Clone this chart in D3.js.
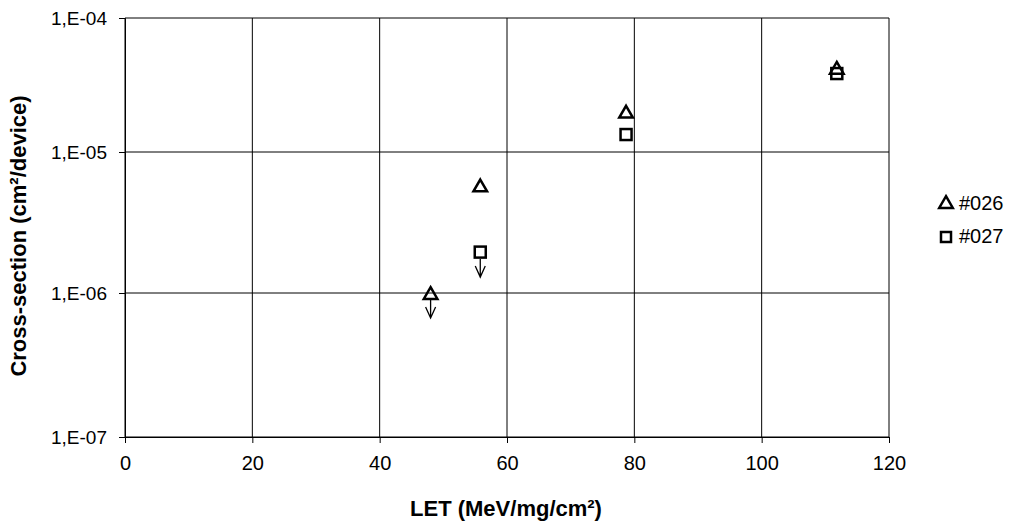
<!DOCTYPE html>
<html>
<head>
<meta charset="utf-8">
<script src="https://cdn.jsdelivr.net/npm/d3@7"></script>
<style>
  body { margin: 0; background: #fff; }
  text { font-family: "Liberation Sans", Arial, sans-serif; fill: #000; }
</style>
</head>
<body>
<div id="chart"></div>
<script>
// LET values and cross-sections per device
const let026 = [48, 55.8, 78.7, 111.8];
const xs026 = [1.0e-6, 5.8e-6, 2.0e-5, 4.25e-5];
const limit026 = [true, false, false, false];

const let027 = [55.8, 78.7, 111.8];
const xs027 = [1.95e-6, 1.35e-5, 3.85e-5];
const limit027 = [true, false, false];

const xTicks = [0, 20, 40, 60, 80, 100, 120];
const yTicks = [1e-7, 1e-6, 1e-5, 1e-4];
const yTickLabels = ['1,E-07', '1,E-06', '1,E-05', '1,E-04'];
const seriesNames = ['#026', '#027'];

let width = 1017,
  height = 524;

let svg = d3.select('#chart').append('svg')
  .attr('width', width)
  .attr('height', height);

let x = d3.scaleLinear().domain([0, 120]).range([125, 889]);
// decades are not quite evenly spaced on the original
let y = d3.scaleLog().domain(yTicks).range([437, 293, 152, 18]);

// grid
svg.append('g')
  .selectAll('line')
  .data(xTicks)
  .enter().append('line')
  .attr('x1', d => x(d)).attr('x2', d => x(d))
  .attr('y1', y(1e-4)).attr('y2', y(1e-7))
  .attr('stroke', '#000').attr('stroke-width', 1);

svg.append('g')
  .selectAll('line')
  .data(yTicks)
  .enter().append('line')
  .attr('x1', x(0)).attr('x2', x(120))
  .attr('y1', d => y(d)).attr('y2', d => y(d))
  .attr('stroke', '#000').attr('stroke-width', 1);

// axes
let xAxis = svg.append('g')
  .attr('transform', 'translate(0,' + y(1e-7) + ')')
  .call(d3.axisBottom(x).tickValues(xTicks).tickSize(6).tickPadding(13));
let yAxis = svg.append('g')
  .attr('transform', 'translate(' + x(0) + ',0)')
  .call(d3.axisLeft(y).tickValues(yTicks).tickFormat((d, i) => yTickLabels[i]).tickSize(6).tickPadding(12));

[xAxis, yAxis].forEach(a => {
  a.select('.domain').attr('stroke', '#000');
  a.selectAll('line').attr('stroke', '#000');
  a.selectAll('text').attr('fill', '#000');
});
xAxis.selectAll('text').style('font-size', '20px');
yAxis.selectAll('text').style('font-size', '19px');

// axis titles
svg.append('text')
  .attr('x', 506).attr('y', 516)
  .attr('text-anchor', 'middle')
  .style('font-size', '22px').style('font-weight', 'bold')
  .text('LET (MeV/mg/cm²)');

svg.append('text')
  .attr('transform', 'translate(26,236) rotate(-90)')
  .attr('text-anchor', 'middle')
  .style('font-size', '22px').style('font-weight', 'bold')
  .text('Cross-section (cm²/device)');

let tri = d3.symbol().type(d3.symbolTriangle).size(80);

function arrow(g, cx, cy) {
  g.append('path')
    .attr('d', 'M' + cx + ',' + (cy + 7) + 'V' + (cy + 25) +
      'M' + (cx - 5) + ',' + (cy + 14) + 'L' + cx + ',' + (cy + 25) + 'L' + (cx + 5) + ',' + (cy + 14))
    .attr('fill', 'none').attr('stroke', '#000').attr('stroke-width', 1.3);
}

let pts = svg.append('g');

// #027 squares
let027.forEach((d, i) => {
  let cx = x(d), cy = y(xs027[i]);
  pts.append('rect')
    .attr('x', cx - 5.5).attr('y', cy - 5.5)
    .attr('width', 11).attr('height', 11)
    .attr('fill', '#fff').attr('stroke', '#000').attr('stroke-width', 2.5);
  if (limit027[i]) arrow(pts, cx, cy);
});

// #026 triangles (shifted so the box of the glyph is centred on the value)
let026.forEach((d, i) => {
  let cx = x(d), cy = y(xs026[i]);
  pts.append('path')
    .attr('d', tri())
    .attr('transform', 'translate(' + cx + ',' + (cy + 2) + ')')
    .attr('fill', 'none').attr('stroke', '#000').attr('stroke-width', 2.5);
  if (limit026[i]) arrow(pts, cx, cy);
});

// legend
let leg = svg.append('g').attr('transform', 'translate(946,204)');
leg.append('path').attr('d', tri())
  .attr('fill', 'none').attr('stroke', '#000').attr('stroke-width', 2.5);
leg.append('rect')
  .attr('x', -5).attr('y', 28).attr('width', 10).attr('height', 10)
  .attr('fill', 'none').attr('stroke', '#000').attr('stroke-width', 2.5);
leg.selectAll('text')
  .data(seriesNames)
  .enter().append('text')
  .attr('x', 13).attr('y', (d, i) => 6 + i * 33)
  .style('font-size', '20px')
  .text(d => d);
</script>
</body>
</html>
